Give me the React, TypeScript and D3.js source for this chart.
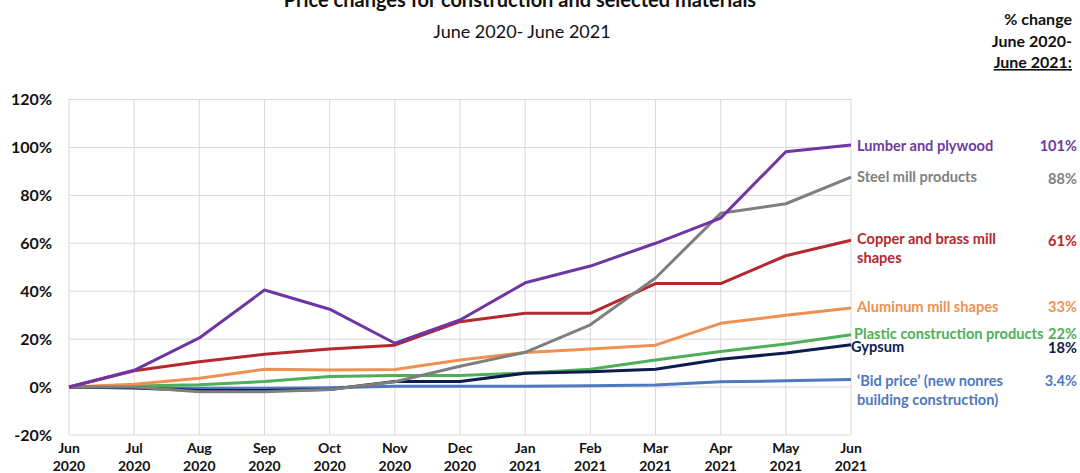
import React from "react";
import * as d3 from "d3";

const months = ["Jun", "Jul", "Aug", "Sep", "Oct", "Nov", "Dec", "Jan", "Feb", "Mar", "Apr", "May", "Jun"];
const years = ["2020", "2020", "2020", "2020", "2020", "2020", "2020", "2021", "2021", "2021", "2021", "2021", "2021"];

const lumber = [0, 7, 20.5, 40.5, 32.5, 18.3, 28, 43.5, 50.5, 60, 70.5, 98.2, 101];
const steel = [0, 0, -2, -2, -1, 2.2, 8.7, 14.5, 26, 45.5, 72.5, 76.5, 87.6];
const copper = [0, 6.8, 10.6, 13.7, 15.9, 17.5, 27.3, 30.8, 30.8, 43.2, 43.2, 54.8, 61.3];
const aluminum = [0, 1.2, 3.7, 7.4, 7.1, 7.3, 11.3, 14.4, 15.9, 17.5, 26.6, 30, 33];
const plastic = [0, 0.4, 1, 2.3, 4.4, 4.8, 4.8, 5.9, 7.4, 11.3, 14.8, 18, 21.8];
const gypsum = [0, -0.4, -1.4, -1.4, -1, 2.3, 2.3, 5.8, 6.4, 7.4, 11.6, 14.2, 17.7];
const bidPrice = [0, -0.2, -0.5, -0.5, -0.3, 0.3, 0.3, 0.3, 0.5, 0.9, 2.2, 2.6, 3.2];

const yTicks = [-20, 0, 20, 40, 60, 80, 100, 120];

const seriesNames = [
  ["Lumber and plywood"],
  ["Steel mill products"],
  ["Copper and brass mill", "shapes"],
  ["Aluminum mill shapes"],
  ["Plastic construction products"],
  ["Gypsum"],
  ["\u2018Bid price\u2019 (new nonres", "building construction)"],
];
const changeLabels = ["101%", "88%", "61%", "33%", "22%", "18%", "3.4%"];

const FONT = "Lato, 'Open Sans', sans-serif";

export default function App() {
  const x = d3.scaleLinear().domain([0, 12]).range([69, 851]);
  const y = d3.scaleLinear().domain([-20, 120]).range([435, 99.5]);
  const line = d3
    .line<number>()
    .x((_, i) => x(i))
    .y((d) => y(d));

  const series = [
    { data: bidPrice, color: "#4F78BE" },
    { data: plastic, color: "#4FAE5A" },
    { data: aluminum, color: "#EE9150" },
    { data: gypsum, color: "#0C1C4E" },
    { data: copper, color: "#B5282C" },
    { data: steel, color: "#7F7F7F" },
    { data: lumber, color: "#7035A2" },
  ];

  const labelDefs = [
    { color: "#6F3AA0", ys: [146], x: 857, vy: 146 },
    { color: "#808080", ys: [177], x: 857, vy: 179 },
    { color: "#B5282C", ys: [239, 258], x: 857, vy: 241 },
    { color: "#EE9150", ys: [307], x: 857, vy: 307 },
    { color: "#4FAE5A", ys: [334], x: 854, vy: 334 },
    { color: "#0C1C4E", ys: [347], x: 851, vy: 348 },
    { color: "#4F78BE", ys: [381, 400], x: 857, vy: 381 },
  ];

  return (
    <svg
      width={1080}
      height={473}
      style={{ position: "absolute", left: 0, top: 0, background: "#fff" }}
      fontFamily={FONT}
    >
      <rect x={0} y={0} width={1080} height={473} fill="#fff" />
      {yTicks.map((t) => (
        <line key={"h" + t} x1={x(0)} x2={x(12)} y1={y(t)} y2={y(t)} stroke="#D9D9D9" strokeWidth={1} />
      ))}
      {months.map((_, i) => (
        <line key={"v" + i} x1={x(i)} x2={x(i)} y1={y(120)} y2={y(-20)} stroke="#D9D9D9" strokeWidth={1} />
      ))}
      {yTicks.map((t) => (
        <text key={"yl" + t} x={52} y={y(t)} dy="0.35em" textAnchor="end" fontSize={16} fontWeight="bold" fill="#111">
          {t + "%"}
        </text>
      ))}
      {months.map((m, i) => (
        <g key={"xl" + i}>
          <text x={x(i)} y={453} textAnchor="middle" fontSize={14} fontWeight="bold" fill="#111">
            {m}
          </text>
          <text x={x(i)} y={471} textAnchor="middle" fontSize={14} fontWeight="bold" fill="#111">
            {years[i]}
          </text>
        </g>
      ))}
      {series.map((s, k) => (
        <path key={"s" + k} d={line(s.data) || ""} fill="none" stroke={s.color} strokeWidth={3} strokeLinejoin="round" />
      ))}
      {labelDefs.map((l, k) => (
        <g key={"lab" + k}>
          {seriesNames[k].map((t, j) => (
            <text key={j} x={l.x} y={l.ys[j]} dy="0.35em" fontSize={14.6} fontWeight="bold" fill={l.color}>
              {t}
            </text>
          ))}
          <text x={1077} y={l.vy} dy="0.35em" textAnchor="end" fontSize={14.6} fontWeight="bold" fill={l.color}>
            {changeLabels[k]}
          </text>
        </g>
      ))}
      <text x={520} y={7} textAnchor="middle" fontSize={20} fontWeight="bold" fill="#111">
        Price changes for construction and selected materials
      </text>
      <text x={522} y={38} textAnchor="middle" fontSize={18} fill="#111">
        June 2020- June 2021
      </text>
      <text x={1072} y={25} textAnchor="end" fontSize={16} fontWeight="bold" fill="#111">
        % change
      </text>
      <text x={1072} y={47} textAnchor="end" fontSize={16} fontWeight="bold" fill="#111">
        June 2020-
      </text>
      <text x={1072} y={68} textAnchor="end" fontSize={16} fontWeight="bold" fill="#111" textDecoration="underline">
        June 2021:
      </text>
    </svg>
  );
}
